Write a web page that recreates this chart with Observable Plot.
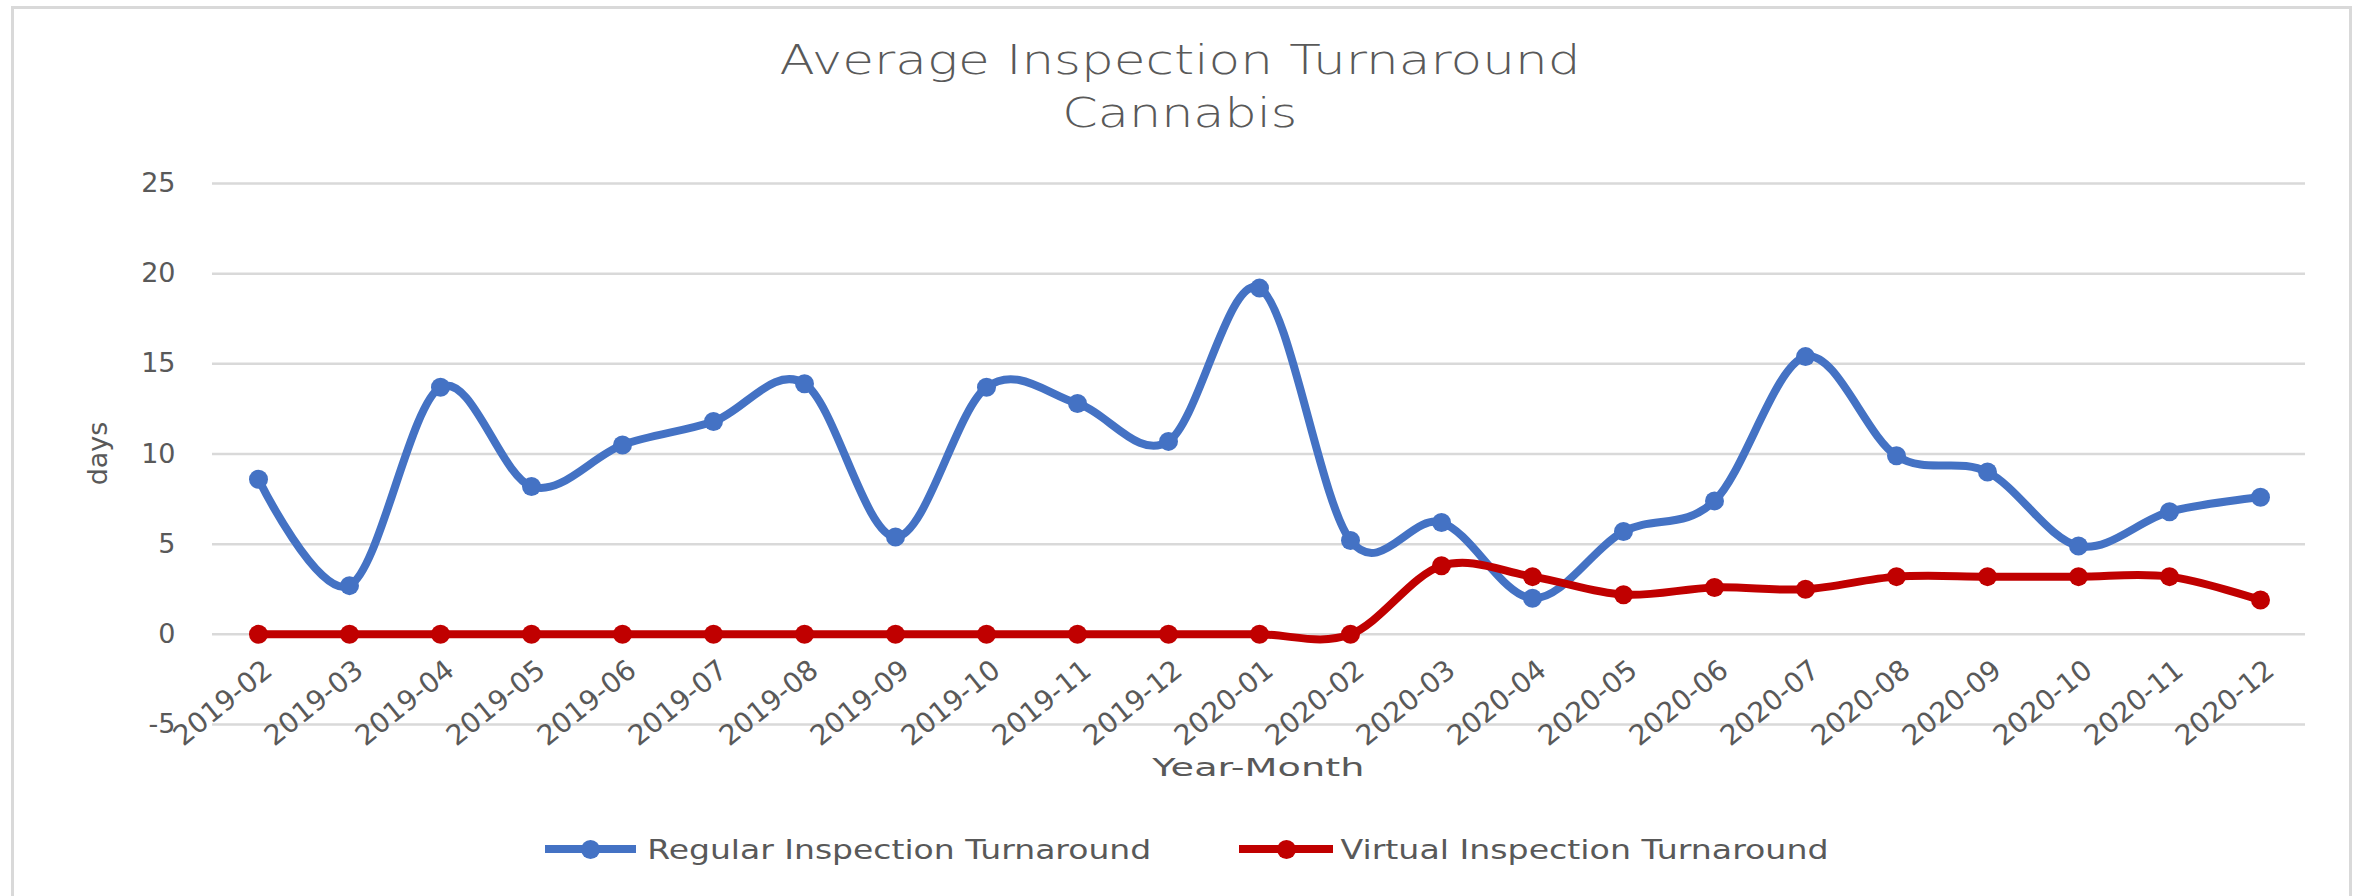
<!DOCTYPE html>
<html>
<head>
<meta charset="utf-8">
<script src="https://cdn.jsdelivr.net/npm/d3@7"></script>
<script src="https://cdn.jsdelivr.net/npm/@observablehq/plot@0.6"></script>
<style>
  html, body { margin: 0; padding: 0; background: #fff; }
  #wrap { position: relative; width: 2361px; height: 896px; overflow: hidden; background: #fff;
          font-family: "DejaVu Sans", sans-serif; color: #595959; }
  #border { position: absolute; left: 11px; top: 6px; width: 2335px; height: 900px; border: 3px solid #d9d9d9; }
  .t { position: absolute; white-space: nowrap; line-height: 1; transform-origin: center center; }
  #chart { position: absolute; left: 0; top: 140px; }
  .swatch { position: absolute; height: 8px; }
  .mk { position: absolute; width: 19px; height: 19px; border-radius: 50%; }
</style>
</head>
<body>
<div id="wrap">
  <div id="border"></div>
  <div id="chart"></div>
</div>
<script>
// ---- data ----
const titleLines = ["Average Inspection Turnaround", "Cannabis"];
const yLabel = "days";
const xLabel = "Year-Month";
const months = ["2019-02","2019-03","2019-04","2019-05","2019-06","2019-07","2019-08","2019-09","2019-10","2019-11","2019-12",
                "2020-01","2020-02","2020-03","2020-04","2020-05","2020-06","2020-07","2020-08","2020-09","2020-10","2020-11","2020-12"];
const seriesNames = ["Regular Inspection Turnaround", "Virtual Inspection Turnaround"];
const seriesColors = ["#4472C4", "#C00000"];
const regular = [8.6, 2.7, 13.7, 8.2, 10.5, 11.8, 13.9, 5.4, 13.7, 12.8, 10.7,
                 19.2, 5.2, 6.2, 2.0, 5.7, 7.4, 15.4, 9.9, 9.0, 4.9, 6.8, 7.6];
const virtual = [0, 0, 0, 0, 0, 0, 0, 0, 0, 0, 0,
                 0, 0, 3.8, 3.2, 2.2, 2.6, 2.5, 3.2, 3.2, 3.2, 3.2, 1.9];
const yTicks = [-5, 0, 5, 10, 15, 20, 25];

const rows = months.flatMap((m, i) => [
  {month: m, series: seriesNames[0], value: regular[i]},
  {month: m, series: seriesNames[1], value: virtual[i]}
]);

const chart = Plot.plot({
  width: 2361,
  height: 620,
  marginLeft: 212,
  marginRight: 56,
  marginTop: 43,
  marginBottom: 36,
  style: {fontFamily: "DejaVu Sans, sans-serif", fontSize: "27px", color: "#595959", background: "transparent", overflow: "visible"},
  x: {type: "point", domain: months, padding: 0.5, axis: null},
  y: {domain: [-5, 25]},
  color: {domain: seriesNames, range: seriesColors},
  marks: [
    Plot.gridY(yTicks, {stroke: "#d9d9d9", strokeOpacity: 1, strokeWidth: 2.5}),
    Plot.axisY(yTicks, {tickSize: 0, tickPadding: 37, label: null, fill: "#595959", tickFormat: d => String(d)}),
    Plot.text(months, {x: d => d, y: () => 0, text: d => d, rotate: -39, textAnchor: "end",
                       dx: 10, dy: 32, fill: "#595959", fontSize: 28}),
    Plot.line(rows, {x: "month", y: "value", z: "series", stroke: "series", strokeWidth: 8, curve: "cardinal"}),
    Plot.dot(rows, {x: "month", y: "value", fill: "series", r: 9.5})
  ]
});
document.getElementById("chart").appendChild(chart);

// ---- text and legend overlays ----
const wrap = document.getElementById("wrap");
function addText(txt, opts) {
  const d = document.createElement("div");
  d.className = "t";
  d.textContent = txt;
  d.style.fontSize = opts.size + "px";
  d.style.fontWeight = opts.weight || 400;
  wrap.appendChild(d);
  const w = d.getBoundingClientRect().width;
  const s = opts.width ? opts.width / w : 1;
  const top = opts.base - 0.846 * opts.size;
  if (opts.rotate) {
    d.style.left = (opts.cx - w / 2) + "px";
    d.style.top = (opts.cy - opts.size / 2) + "px";
    d.style.transform = `rotate(${opts.rotate}deg) scaleX(${s})`;
  } else if (opts.cx !== undefined) {
    d.style.left = (opts.cx - w / 2) + "px";
    d.style.top = top + "px";
    d.style.transform = `scaleX(${s})`;
  } else {
    d.style.left = (opts.left + (w * s - w) / 2) + "px";
    d.style.top = top + "px";
    d.style.transform = `scaleX(${s})`;
  }
  return d;
}
addText(titleLines[0], {size: 41, weight: 300, cx: 1180, base: 75, width: 801});
addText(titleLines[1], {size: 41, weight: 300, cx: 1180, base: 128, width: 235});
addText(xLabel, {size: 25, cx: 1258, base: 776, width: 212});
addText(yLabel, {size: 27, cx: 98, cy: 453, rotate: -90});

const legendItems = [
  {x0: 545, x1: 636, textLeft: 647, textWidth: 504},
  {x0: 1239, x1: 1333, textLeft: 1341, textWidth: 488}
];
legendItems.forEach((it, i) => {
  const sw = document.createElement("div");
  sw.className = "swatch";
  sw.style.left = it.x0 + "px";
  sw.style.width = (it.x1 - it.x0) + "px";
  sw.style.top = (849 - 4) + "px";
  sw.style.background = seriesColors[i];
  wrap.appendChild(sw);
  const mk = document.createElement("div");
  mk.className = "mk";
  mk.style.left = ((it.x0 + it.x1) / 2 - 9.5) + "px";
  mk.style.top = (849 - 9.5) + "px";
  mk.style.background = seriesColors[i];
  wrap.appendChild(mk);
  addText(seriesNames[i], {size: 27, left: it.textLeft, base: 859, width: it.textWidth});
});
</script>
</body>
</html>
